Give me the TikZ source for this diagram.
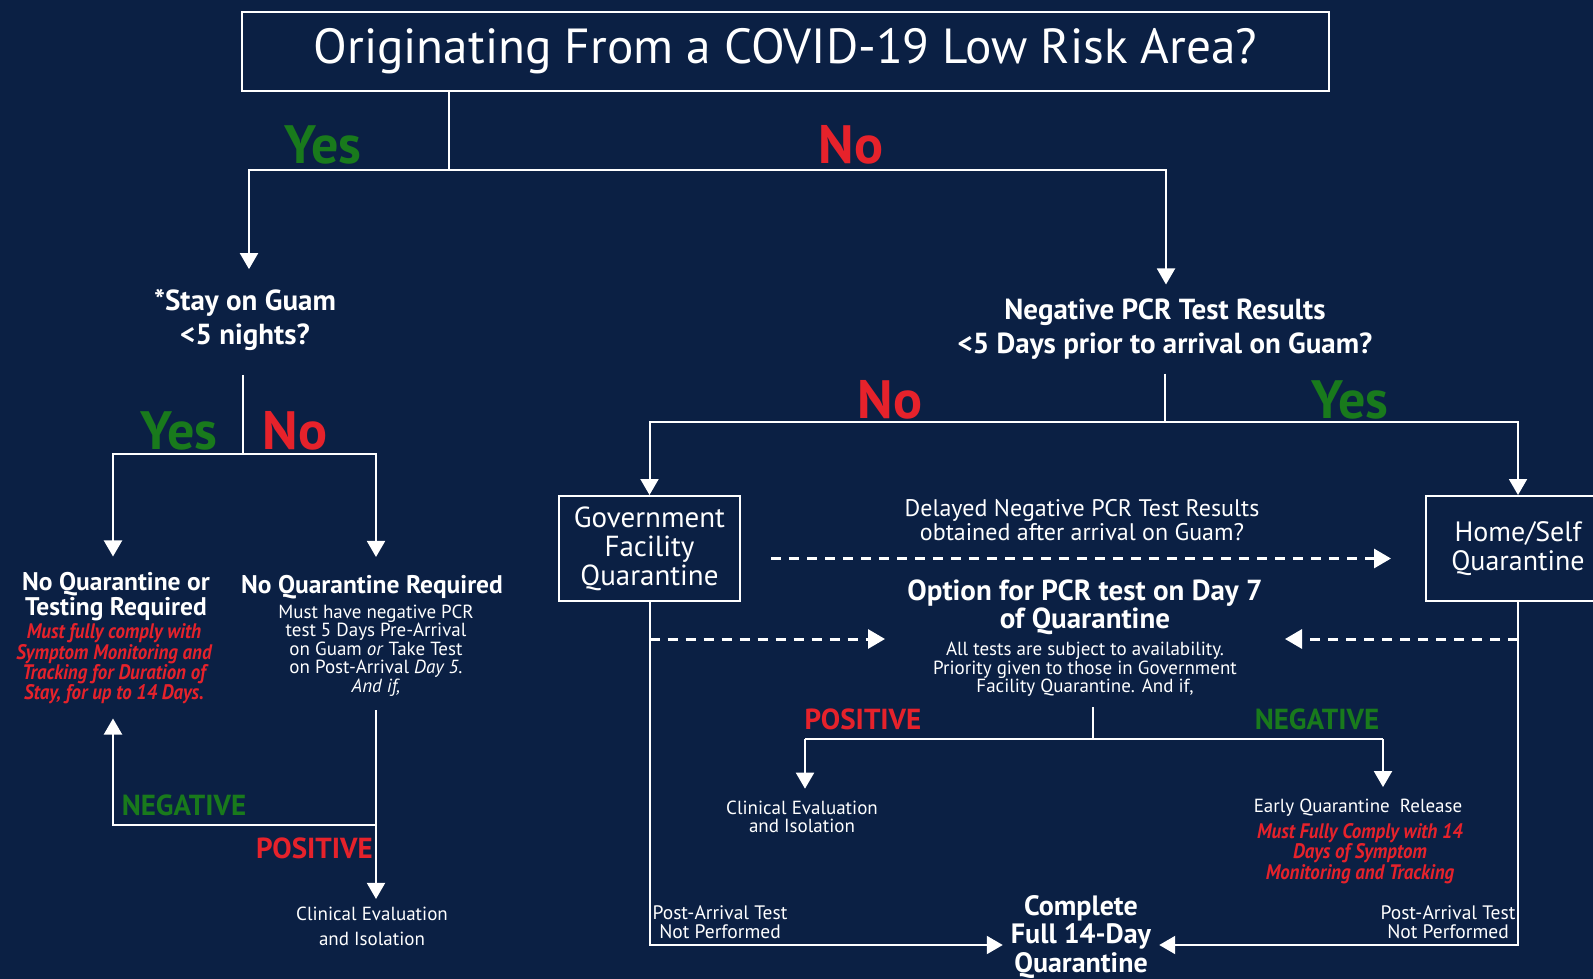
\documentclass[tikz,border=0pt]{standalone}
\usepackage{fontspec}
\setmainfont{PT Sans}
\newfontfamily\condfont[FakeStretch=0.9]{PT Sans}
\usetikzlibrary{positioning,arrows.meta,calc}

\definecolor{navybg}{HTML}{0B2044}
\definecolor{yesgreen}{HTML}{197A1C}
\definecolor{nored}{HTML}{E6222B}
\newcommand\fs[2]{\fontsize{#1}{#2}\selectfont}

\begin{document}
\begin{tikzpicture}[x=1pt, y=-1pt,
  every node/.style={text=white, inner sep=0pt, align=center},
  line/.style={draw=white, line width=2pt},
  arr/.style={line, -{Triangle[width=18pt,length=16pt]}},
  dasharr/.style={draw=white, line width=3pt, dash pattern=on 10pt off 8pt,
    -{Triangle[width=19pt,length=17pt]}},
  qbox/.style={draw=white, line width=2pt, minimum width=181pt, minimum height=105pt,
    font=\fs{29}{29}},
  yesword/.style={text=yesgreen, font=\bfseries\fs{54}{54}},
  noword/.style={text=nored, font=\bfseries\fs{54}{54}},
  question/.style={font=\bfseries\fs{29}{34}},
  result/.style={font=\bfseries\fs{25.5}{25}},
  small/.style={font=\fs{19}{18.4}},
  warn/.style={text=nored, font=\condfont\bfseries\itshape\fs{21}{18.3}},
  posword/.style={text=nored, font=\bfseries\fs{29}{24}},
  negword/.style={text=yesgreen, font=\bfseries\fs{29}{24}}]

\fill[navybg] (0,0) rectangle (1593,979);
\useasboundingbox (0,0) rectangle (1593,979);

% first question
\node[draw=white, line width=2pt, minimum width=1087pt, minimum height=79pt,
  font=\fs{49.3}{50}] (title) at (785.5,51.5) {Originating From a COVID-19 Low Risk Area?};
\node[yesword] (yes1) at (323,145) {Yes};
\node[noword] (no1) at (851,145) {No};

\node[question] (stay) at (245,320) {*Stay on Guam\\<5 nights?};
\node[question] (neg) at (1165,329) {Negative PCR Test Results\\<5 Days prior to arrival on Guam?};

\coordinate (j1) at (449,170);
\draw[line] (j1 |- title.south) -- (j1);
\draw[arr] (j1) -| ($(stay.north)+(4,-20)$);
\draw[arr] (j1) -| ($(neg.north)+(1,-14)$);

% low risk side
\node[yesword] (yes2) at (179,431) {Yes};
\node[noword] (no2) at (295,431) {No};
\coordinate (j2) at (243,454);
\draw[line] ($(stay.south)+(-2,24)$) -- (j2);

\node[result] (noqt) at (116,597) {No Quarantine or\\Testing Required};
\node[warn] (comply) at (114,664) {Must fully comply with\\Symptom Monitoring and\\Tracking for Duration of\\Stay, for up to 14 Days.};
\node[result] (noqr) at (372,587) {No Quarantine Required};
\node[small] (must) at (376,650.5) {Must have negative PCR\\test 5 Days Pre-Arrival\\on Guam \textit{or} Take Test\\on Post-Arrival \textit{Day 5.}\\\textit{And if,}};

\draw[arr] (j2) -| ($(noqt.north)+(-3,-16)$);
\draw[arr] (j2) -| ($(noqr.north)+(4,-18)$);

\coordinate (j3) at (376,825);
\node[negword] (neg2) at (184,805) {NEGATIVE};
\node[posword, anchor=east] (pos2) at (373,848) {POSITIVE};
\node[font=\fs{19}{25}] (clin1) at (372,926.5) {Clinical Evaluation\\and Isolation};
\draw[arr] ($(must.south)+(0,14)$) -- ($(clin1.north)+(4,-8)$);
\draw[arr] (j3) -| ($(comply.south)+(-1,14)$);

% high risk side
\node[noword] (no3) at (890,400) {No};
\node[yesword] (yes3) at (1350,400) {Yes};
\coordinate (j4) at (1165,422);
\draw[line] ($(neg.south)+(0,14)$) -- (j4);

\node[qbox] (gov) at (649.5,548.5) {Government\\Facility\\Quarantine};
\node[qbox, minimum width=184pt, font=\fs{28}{29}] (home) at (1518,548.5) {Home/Self\\Quarantine};
\draw[arr] (j4) -| (gov.north);
\draw[arr] (j4) -| (home.north);

\node[font=\fs{24}{24}] (delay) at (1082,520) {Delayed Negative PCR Test Results\\obtained after arrival on Guam?};
\draw[dasharr] ($(gov.east)+(30,10)$) -- ($(home.west)+(-34,10)$);

\node[font=\bfseries\fs{29}{25}] (option) at (1085,607.5) {Option for PCR test on Day 7\\of Quarantine};
\node[small] (alltests) at (1085,669.5) {All tests are subject to availability.\\Priority given to those in Government\\Facility Quarantine. And if,};

\coordinate (g1) at (649.5,639);
\coordinate (h1) at (1518,639);
\coordinate (optl) at (885,639);
\coordinate (optr) at (1285,639);
\draw[dasharr] (g1) -- (optl);
\draw[dasharr] (h1) -- (optr);

\coordinate (j5) at (1093,739);
\coordinate (e1) at (805,739);
\coordinate (e2) at (1383,739);
\draw[line] ($(alltests.south)+(8,10)$) -- (j5);
\node[posword] (pos3) at (863,719) {POSITIVE};
\node[negword] (neg3) at (1317,719) {NEGATIVE};
\node[font=\fs{19}{18.5}] (clin2) at (802,817) {Clinical Evaluation\\and Isolation};
\node[font=\fs{19}{18.5}] (early) at (1358,808) {Early Quarantine\ \ Release};
\node[warn] (must2) at (1360,853.5) {Must Fully Comply with 14\\Days of Symptom\\Monitoring and Tracking};
\draw[line] (e1) -- (e2);
\draw[arr] (e1) -- ($(e1 |- clin2.north)+(0,-12)$);
\draw[arr] (e2) -- ($(e2 |- early.north)+(0,-12)$);

% completing quarantine
\node[font=\bfseries\fs{28}{28.5}] (complete) at (1081,937) {Complete\\Full 14-Day\\Quarantine};
\node[font=\fs{19.5}{19}] (post1) at (720,922) {Post-Arrival Test\\Not Performed};
\node[font=\fs{19.5}{19}] (post2) at (1448,922) {Post-Arrival Test\\Not Performed};
\draw[arr] (gov.south) |- ($(complete.west)+(-8,8)$);
\draw[arr] (home.south) |- ($(complete.east)+(8,8)$);
\end{tikzpicture}
\end{document}
